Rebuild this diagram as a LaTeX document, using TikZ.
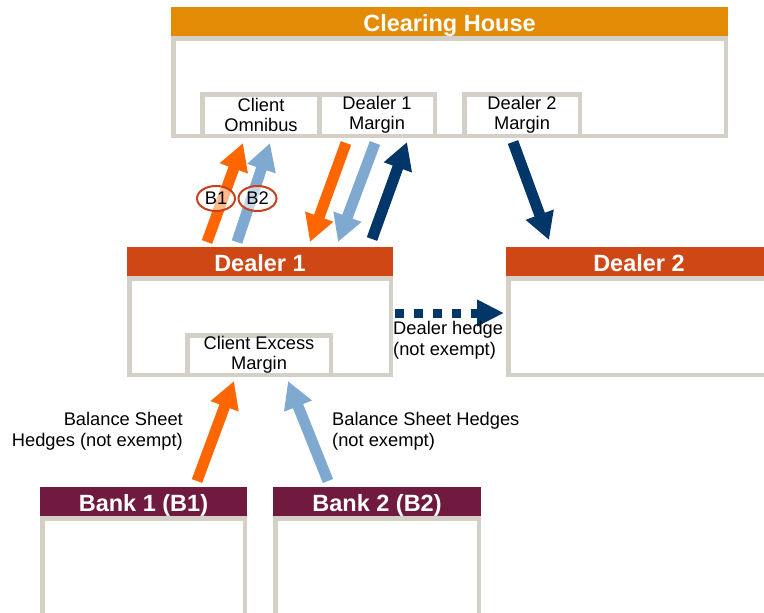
\documentclass[tikz,border=0pt]{standalone}
\usepackage{fontspec}
\setmainfont{Liberation Sans}
\usetikzlibrary{arrows.meta,shapes.geometric}

\definecolor{chorange}{RGB}{227,139,5}
\definecolor{dealerred}{RGB}{208,71,22}
\definecolor{bankmaroon}{RGB}{111,26,62}
\definecolor{framegray}{RGB}{212,208,200}
\definecolor{flowor}{RGB}{255,102,0}
\definecolor{flowlb}{RGB}{127,169,208}
\definecolor{flownavy}{RGB}{0,54,104}
\definecolor{bubred}{RGB}{200,64,28}

\tikzset{
  hdr/.style={anchor=north west, inner sep=0pt, outer sep=0pt, text=white,
    text height=19.5pt, text depth=0pt,
    font=\fontsize{23.5}{26}\selectfont\bfseries},
  panel/.style={anchor=north west, draw=framegray, line width=4.5pt,
    fill=white, inner sep=0pt, outer sep=0pt},
  acct/.style={panel, align=center, font=\fontsize{18.3}{19.5}\selectfont},
  lbl/.style={inner sep=0pt, font=\fontsize{18.3}{21}\selectfont},
  flow/.style={line width=11pt, -{Triangle[width=28pt,length=27pt]}},
  hedge/.style={line width=9pt, color=flownavy, dash pattern=on 8.7pt off 10.3pt,
    -{Triangle[width=25pt,length=27pt]}},
  bub/.style={ellipse, draw=bubred, line width=2pt, fill=white,
    fill opacity=0.55, text opacity=1, inner sep=0pt,
    minimum width=38pt, minimum height=25pt,
    font=\fontsize{18.3}{19.5}\selectfont}
}

\begin{document}
\begin{tikzpicture}[x=1pt,y=-1pt]
\useasboundingbox (0,0) rectangle (764,613);
\clip (0,0) rectangle (764,613);

% Clearing house
\node[panel, minimum width=552.5pt, minimum height=97.5pt] (chbody) at (173.25,38.25) {};
\node[hdr, fill=chorange, minimum width=557pt, minimum height=29pt] (chhead) at (171,7) {Clearing House};
\node[acct, minimum width=117.5pt, minimum height=41.5pt] (omni) at (202.25,94.25) {Client\\Omnibus};
\node[acct, minimum width=115.5pt, minimum height=41.5pt] (d1m) at (319.25,94.25) {Dealer 1\\Margin};
\node[acct, minimum width=115.5pt, minimum height=41.5pt] (d2m) at (464.25,94.25) {Dealer 2\\Margin};

% Dealer 1
\node[panel, minimum width=261.5pt, minimum height=96.5pt] (d1body) at (129.25,278.25) {};
\node[hdr, fill=dealerred, minimum width=266pt, minimum height=29pt] (d1head) at (127,247) {Dealer 1};
\node[acct, minimum width=143.5pt, minimum height=39.5pt] (cem) at (187.25,335.25) {Client Excess\\Margin};

% Dealer 2
\node[panel, minimum width=261.5pt, minimum height=96.5pt] (d2body) at (508.25,278.25) {};
\node[hdr, fill=dealerred, minimum width=266pt, minimum height=29pt] (d2head) at (506,247) {Dealer 2};

% Banks
\node[panel, minimum width=202.5pt, minimum height=140pt] (b1body) at (42.25,518.25) {};
\node[hdr, fill=bankmaroon, minimum width=207pt, minimum height=29pt] (b1head) at (40,487) {Bank 1 (B1)};
\node[panel, minimum width=203.5pt, minimum height=140pt] (b2body) at (275.25,518.25) {};
\node[hdr, fill=bankmaroon, minimum width=208pt, minimum height=29pt] (b2head) at (273,487) {Bank 2 (B2)};

% Flow end points
\coordinate (o1s) at (207,242);  \coordinate (o1e) at (243,143);
\coordinate (l1s) at (237,242);  \coordinate (l1e) at (270,143);
\coordinate (o2s) at (346,143);  \coordinate (o2e) at (310,242);
\coordinate (l2s) at (375,143);  \coordinate (l2e) at (338,242);
\coordinate (n1s) at (372,239);  \coordinate (n1e) at (407,142);
\coordinate (n2s) at (513,142);  \coordinate (n2e) at (549,240);
\coordinate (hs)  at (395,313);  \coordinate (he)  at (504,313);
\coordinate (o3s) at (197,481);  \coordinate (o3e) at (234,381);
\coordinate (l3s) at (328,481);  \coordinate (l3e) at (288,381);

% Margin flows
\draw[flow, color=flowor] (o1s) -- (o1e);
\draw[flow, color=flowlb] (l1s) -- (l1e);
\draw[flow, color=flowor] (o2s) -- (o2e);
\draw[flow, color=flowlb] (l2s) -- (l2e);
\draw[flow, color=flownavy] (n1s) -- (n1e);
\draw[flow, color=flownavy] (n2s) -- (n2e);
\draw[hedge] (hs) -- (he);
\draw[flow, color=flowor] (o3s) -- (o3e);
\draw[flow, color=flowlb] (l3s) -- (l3e);

% Bank tags
\node[bub] (tag1) at (216,198.5) {B1};
\node[bub] (tag2) at (257.5,198.5) {B2};

% Flow labels
\node[lbl, anchor=east, align=right] (bsh1) at (183,431) {Balance Sheet\\Hedges (not exempt)};
\node[lbl, anchor=west, align=left] (bsh2) at (332,431) {Balance Sheet Hedges\\(not exempt)};
\node[lbl, anchor=west, align=left] (dh) at (393,340) {Dealer hedge\\(not exempt)};
\end{tikzpicture}
\end{document}
